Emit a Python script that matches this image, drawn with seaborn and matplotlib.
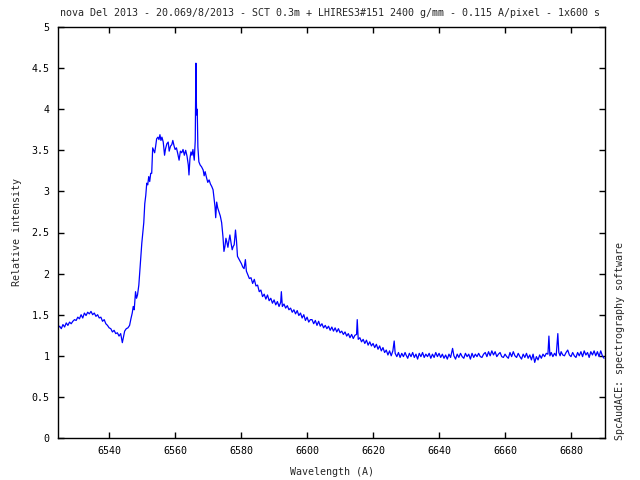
import matplotlib
matplotlib.use("Agg")
import matplotlib.pyplot as plt
import seaborn as sns

# spectrum (wavelength in A, relative intensity)
wavelength = [
    6524.5, 6525.0, 6525.5, 6526.0, 6526.5, 6527.0, 6527.5, 6528.0, 6528.5, 6529.0,
    6529.5, 6530.0, 6530.5, 6531.0, 6531.5, 6532.0, 6532.5, 6533.0, 6533.5, 6534.0,
    6534.5, 6535.0, 6535.5, 6536.0, 6536.5, 6537.0, 6537.5, 6538.0, 6538.5, 6539.0,
    6539.5, 6540.0, 6540.5, 6541.0, 6541.5, 6542.0, 6542.5, 6543.0, 6543.5, 6544.0,
    6544.3, 6544.7, 6545.2, 6545.7, 6546.2, 6546.6, 6547.0, 6547.3, 6547.6, 6548.0,
    6548.3, 6548.6, 6549.0, 6549.3, 6549.6, 6549.9, 6550.2, 6550.5, 6550.8, 6551.1,
    6551.4, 6551.7, 6552.0, 6552.3, 6552.6, 6552.9, 6553.2, 6553.5, 6553.8, 6554.1,
    6554.4, 6554.8, 6555.1, 6555.4, 6555.7, 6556.0, 6556.4, 6556.8, 6557.1, 6557.5,
    6557.9, 6558.2, 6558.6, 6559.0, 6559.3, 6559.7, 6560.0, 6560.4, 6560.8, 6561.2,
    6561.6, 6562.0, 6562.4, 6562.8, 6563.2, 6563.6, 6564.0, 6564.2, 6564.5, 6564.8,
    6565.1, 6565.4, 6565.8, 6566.1, 6566.3, 6566.5, 6566.7, 6566.9, 6567.2, 6567.6,
    6568.0, 6568.5, 6568.8, 6569.1, 6569.5, 6569.9, 6570.3, 6570.7, 6571.1, 6571.5,
    6571.8, 6572.1, 6572.3, 6572.6, 6572.9, 6573.3, 6573.7, 6574.1, 6574.5, 6574.8,
    6575.1, 6575.4, 6575.7, 6576.0, 6576.3, 6576.6, 6577.0, 6577.3, 6577.6, 6577.9,
    6578.3, 6578.6, 6578.9, 6579.3, 6579.7, 6580.1, 6580.5, 6580.9, 6581.3, 6581.6,
    6582.0, 6582.5, 6583.0, 6583.5, 6584.0, 6584.5, 6585.0, 6585.5, 6586.0, 6586.5,
    6587.0, 6587.5, 6588.0, 6588.5, 6589.0, 6589.5, 6590.0, 6590.5, 6591.0, 6591.5,
    6592.0, 6592.2, 6592.5, 6593.0, 6593.5, 6594.0, 6594.5, 6595.0, 6595.5, 6596.0,
    6596.5, 6597.0, 6597.5, 6598.0, 6598.5, 6599.0, 6599.5, 6600.0, 6600.5, 6601.0,
    6601.5, 6602.0, 6602.5, 6603.0, 6603.5, 6604.0, 6604.5, 6605.0, 6605.5, 6606.0,
    6606.5, 6607.0, 6607.5, 6608.0, 6608.5, 6609.0, 6609.5, 6610.0, 6610.5, 6611.0,
    6611.5, 6612.0, 6612.5, 6613.0, 6613.5, 6614.0, 6614.5, 6615.0, 6615.2, 6615.5,
    6616.0, 6616.5, 6617.0, 6617.5, 6618.0, 6618.5, 6619.0, 6619.5, 6620.0, 6620.5,
    6621.0, 6621.5, 6622.0, 6622.5, 6623.0, 6623.5, 6624.0, 6624.5, 6625.0, 6625.5,
    6626.0, 6626.4, 6626.7, 6627.2, 6627.7, 6628.2, 6628.7, 6629.2, 6629.7, 6630.0,
    6630.5, 6631.0, 6631.5, 6632.0, 6632.5, 6633.0, 6633.5, 6634.0, 6634.5, 6635.0,
    6635.5, 6636.0, 6636.5, 6637.0, 6637.5, 6638.0, 6638.5, 6639.0, 6639.5, 6640.0,
    6640.5, 6641.0, 6641.5, 6642.0, 6642.5, 6643.0, 6643.5, 6644.1, 6644.5, 6645.0,
    6645.5, 6646.0, 6646.5, 6647.0, 6647.5, 6648.0, 6648.5, 6649.0, 6649.5, 6650.0,
    6650.5, 6651.0, 6651.5, 6652.0, 6652.5, 6653.0, 6653.5, 6654.0, 6654.5, 6655.0,
    6655.5, 6656.0, 6656.5, 6657.0, 6657.5, 6658.0, 6658.5, 6659.0, 6659.5, 6660.0,
    6660.5, 6661.0, 6661.5, 6662.0, 6662.5, 6663.0, 6663.5, 6664.0, 6664.5, 6665.0,
    6665.5, 6666.0, 6666.5, 6667.0, 6667.5, 6668.0, 6668.5, 6669.0, 6669.5, 6670.0,
    6670.5, 6671.0, 6671.5, 6672.0, 6672.5, 6673.0, 6673.3, 6673.6, 6674.0, 6674.5,
    6675.0, 6675.5, 6676.0, 6676.3, 6676.7, 6677.0, 6677.5, 6678.0, 6678.5, 6679.0,
    6679.5, 6680.0, 6680.5, 6681.0, 6681.5, 6682.0, 6682.5, 6683.0, 6683.5, 6684.0,
    6684.5, 6685.0, 6685.5, 6686.0, 6686.5, 6687.0, 6687.5, 6688.0, 6688.5, 6689.0,
    6689.5, 6690.0,
]
intensity = [
    1.34, 1.36, 1.33, 1.38, 1.35, 1.40, 1.37, 1.41, 1.39, 1.42,
    1.44, 1.43, 1.47, 1.45, 1.50, 1.46, 1.52, 1.49, 1.53, 1.51,
    1.54, 1.50, 1.52, 1.48, 1.50, 1.46, 1.47, 1.42, 1.44, 1.39,
    1.37, 1.34, 1.33, 1.29, 1.31, 1.27, 1.28, 1.24, 1.27, 1.16,
    1.22, 1.30, 1.33, 1.34, 1.37, 1.45, 1.52, 1.60, 1.56, 1.78,
    1.70, 1.74, 1.86, 2.04, 2.20, 2.37, 2.50, 2.62, 2.85, 2.95,
    3.10, 3.08, 3.18, 3.12, 3.22, 3.22, 3.53, 3.50, 3.47, 3.55,
    3.64, 3.66, 3.63, 3.69, 3.62, 3.66, 3.60, 3.44, 3.52, 3.58,
    3.60, 3.49, 3.55, 3.57, 3.62, 3.55, 3.51, 3.53, 3.46, 3.38,
    3.49, 3.47, 3.51, 3.44, 3.50, 3.43, 3.32, 3.20, 3.40, 3.48,
    3.44, 3.51, 3.38, 3.62, 4.56, 3.93, 4.00, 3.54, 3.36, 3.32,
    3.30, 3.26, 3.19, 3.24, 3.17, 3.11, 3.14, 3.09, 3.06, 3.02,
    2.92, 2.81, 2.68, 2.87, 2.80, 2.75, 2.70, 2.62, 2.45, 2.27,
    2.33, 2.43, 2.38, 2.32, 2.40, 2.47, 2.36, 2.29, 2.33, 2.35,
    2.53, 2.40, 2.21, 2.18, 2.15, 2.12, 2.08, 2.06, 2.17, 2.03,
    1.99, 1.94, 1.95, 1.88, 1.93, 1.85, 1.86, 1.78, 1.80, 1.72,
    1.75, 1.69, 1.74, 1.67, 1.70, 1.64, 1.68, 1.62, 1.66, 1.60,
    1.65, 1.78, 1.60, 1.63, 1.58, 1.61, 1.56, 1.58, 1.53, 1.56,
    1.51, 1.55, 1.49, 1.52, 1.46, 1.50, 1.43, 1.47, 1.41, 1.44,
    1.44, 1.39, 1.43, 1.37, 1.42, 1.36, 1.39, 1.34, 1.37, 1.33,
    1.36, 1.31, 1.35, 1.30, 1.34, 1.29, 1.33, 1.28, 1.30, 1.26,
    1.29, 1.24, 1.27, 1.22, 1.26, 1.21, 1.25, 1.26, 1.44, 1.20,
    1.22, 1.17, 1.20, 1.15, 1.19, 1.13, 1.17, 1.12, 1.15, 1.10,
    1.14, 1.08, 1.12, 1.06, 1.10, 1.04, 1.07, 1.01, 1.06, 1.00,
    1.06, 1.18, 1.03, 0.99, 1.04, 0.98, 1.03, 0.99, 1.04, 1.01,
    0.97, 1.03, 0.99, 1.04, 0.98, 1.02, 0.96, 1.03, 0.99, 1.04,
    0.98, 1.02, 0.99, 1.03, 0.97, 1.02, 0.98, 1.04, 0.99, 1.03,
    0.98, 1.02, 0.97, 1.01, 0.96, 1.02, 0.98, 1.09, 1.00, 0.96,
    1.02, 0.98, 1.03, 0.99, 0.97, 1.03, 0.99, 1.02, 0.96, 1.03,
    0.98, 1.02, 0.99, 1.03, 0.99, 0.98, 1.02, 1.04, 0.99, 1.05,
    1.00, 1.06, 1.01, 1.05, 0.99, 1.02, 1.04, 0.99, 0.98, 1.02,
    0.99, 0.97, 1.04, 0.99, 1.05, 1.00, 0.98, 1.03, 0.99, 0.96,
    1.02, 0.98, 1.03, 0.97, 1.01, 0.95, 1.02, 0.92, 0.99, 0.95,
    1.01, 0.97, 1.02, 0.99, 1.03, 1.02, 1.24, 1.00, 1.04, 0.99,
    1.03, 1.00, 1.27, 1.04, 1.00, 1.05, 1.01, 1.00, 1.04, 1.07,
    1.01, 0.99, 1.04, 1.00, 0.98, 1.04, 1.00, 1.05, 0.99, 1.06,
    1.01, 1.04, 0.98, 1.05, 1.01, 1.06, 1.00, 1.05, 0.99, 1.06,
    1.00, 0.97,
]

x_ticks = [6540, 6560, 6580, 6600, 6620, 6640, 6660, 6680]
y_ticks = [0, 0.5, 1, 1.5, 2, 2.5, 3, 3.5, 4, 4.5, 5]
y_tick_labels = ["0", "0.5", "1", "1.5", "2", "2.5", "3", "3.5", "4", "4.5", "5"]

title = "nova Del 2013 - 20.069/8/2013 - SCT 0.3m + LHIRES3#151 2400 g/mm - 0.115 A/pixel - 1x600 s"

sns.set_style("ticks")
plt.rcParams["font.family"] = ["DejaVu Sans Mono"]
fs = 7.2

fig = plt.figure(figsize=(6.4, 4.8), dpi=100)
ax = fig.add_axes([58 / 640, 42 / 480, 547 / 640, 411 / 480])

sns.lineplot(x=wavelength, y=intensity, color="#0000ff", linewidth=0.9,
             estimator=None, ax=ax)

ax.set_xlim(6524.5, 6690.3)
ax.set_ylim(0, 5)
ax.set_xticks(x_ticks)
ax.set_yticks(y_ticks)
ax.set_yticklabels(y_tick_labels)
ax.tick_params(direction="in", length=4, width=1, top=True, right=True,
               color="black", labelcolor="black", labelsize=fs, pad=6)
for s in ax.spines.values():
    s.set_color("black")
    s.set_linewidth(1)

ax.set_xlabel("Wavelength (A)", fontsize=fs, labelpad=8)
ax.set_ylabel("Relative intensity", fontsize=fs, labelpad=7)
fig.text(330 / 640, 1 - 13 / 480, title, ha="center", va="center", fontsize=fs)
fig.text(620 / 640, 40 / 480, "SpcAudACE: spectrography software",
         rotation=90, ha="center", va="bottom", fontsize=fs)

fig.savefig("out.png", dpi=100)
